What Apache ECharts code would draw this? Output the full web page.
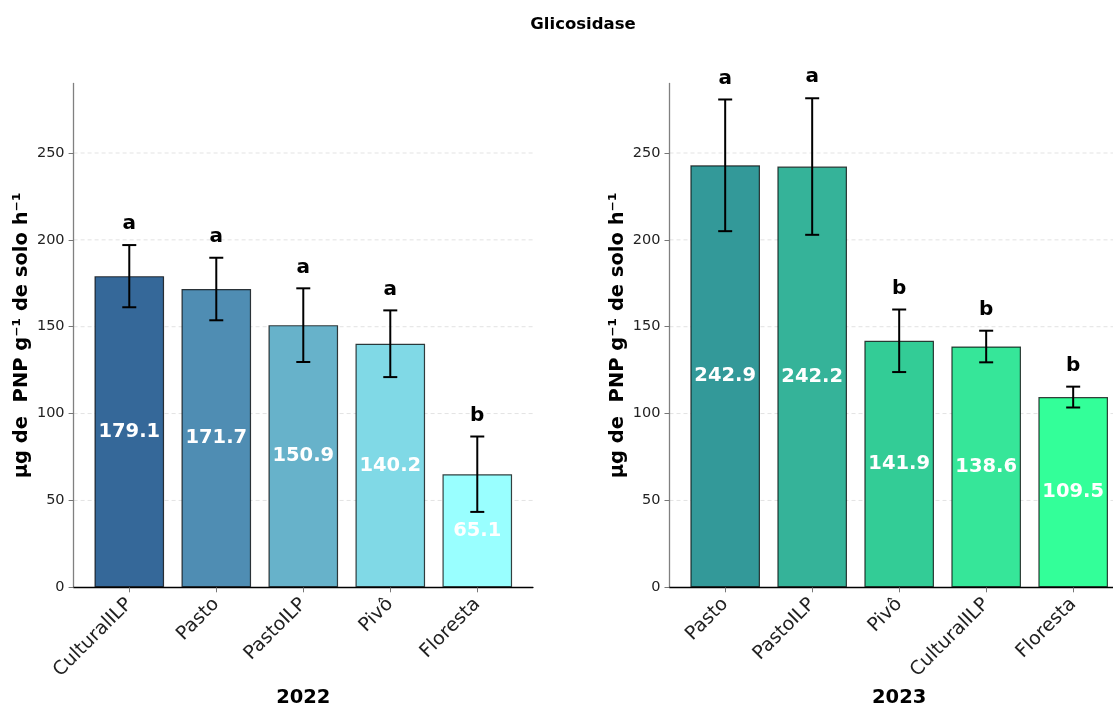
<!DOCTYPE html>
<html>
<head>
<meta charset="utf-8">
<script src="https://cdn.jsdelivr.net/npm/echarts@6/dist/echarts.min.js"></script>
<style>
  html, body { margin: 0; padding: 0; background: #fff; }
  #chart { width: 1113px; height: 706px; }
</style>
</head>
<body>
<div id="chart"></div>
<script>
// Glicosidase activity by land use, 2022 and 2023
const cats2022 = ['CulturalILP', 'Pasto', 'PastoILP', 'Pivô', 'Floresta'];
const mean2022 = [179.1, 171.7, 150.9, 140.2, 65.1];
const err2022 = [17.9, 18.0, 21.2, 19.2, 21.7];
const letters2022 = ['a', 'a', 'a', 'a', 'b'];
const colors2022 = ['#356899', '#4f8db3', '#67b2ca', '#80d9e6', '#99ffff'];

const cats2023 = ['Pasto', 'PastoILP', 'Pivô', 'CulturalILP', 'Floresta'];
const mean2023 = [242.9, 242.2, 141.9, 138.6, 109.5];
const err2023 = [37.9, 39.3, 18.0, 9.1, 6.0];
const letters2023 = ['a', 'a', 'b', 'b', 'b'];
const colors2023 = ['#339999', '#35b399', '#33cc96', '#36e699', '#33ff99'];

const yTicks = [0, 50, 100, 150, 200, 250];
const yMax = 290;
const yLabel = 'µg de  PNP g⁻¹ de solo h⁻¹';
const titleText = 'Glicosidase';

const FONT = 'DejaVu Sans';
const X_MIN = -0.64, X_MAX = 4.64;
const UNIT = 87;                      // pixels per category step
const GRID_W = (X_MAX - X_MIN) * UNIT;
const GRID_TOP = 83.5, GRID_H = 503.8;

const chart = echarts.init(document.getElementById('chart'), null, { renderer: 'canvas' });

function panel(idx, left, cats, year) {
  return {
    grid: { left: left, top: GRID_TOP, width: GRID_W, height: GRID_H, containLabel: false, outerBoundsMode: 'none' },
    xAxis: {
      gridIndex: idx, type: 'value', min: X_MIN, max: X_MAX,
      name: year, nameLocation: 'middle', nameGap: 101,
      nameTextStyle: { fontFamily: FONT, fontWeight: 'bold', fontSize: 19.5, color: '#000' },
      axisLine: { show: true, onZero: false, lineStyle: { color: '#000', width: 1.3 } },
      axisTick: { show: true, customValues: [0, 1, 2, 3, 4], length: 5, lineStyle: { color: '#777', width: 1 } },
      axisLabel: {
        show: true, customValues: [0, 1, 2, 3, 4], rotate: 45, margin: 14,
        fontFamily: FONT, fontSize: 19, color: '#222',
        formatter: v => cats[Math.round(v)]
      },
      splitLine: { show: false }
    },
    yAxis: {
      gridIndex: idx, type: 'value', min: 0, max: yMax,
      name: yLabel, nameLocation: 'middle', nameGap: 41.5, nameRotate: 90,
      nameTextStyle: { fontFamily: FONT, fontWeight: 'bold', fontSize: 19.5, color: '#000' },
      axisLine: { show: true, onZero: false, lineStyle: { color: '#808080', width: 1.3 } },
      axisTick: { show: true, customValues: yTicks, length: 5, lineStyle: { color: '#777', width: 1 } },
      axisLabel: { show: true, customValues: yTicks, margin: 9, fontFamily: FONT, fontSize: 14.5, color: '#222' },
      splitLine: { show: false }
    }
  };
}

const p1 = panel(0, 73.6, cats2022, '2022');
const p2 = panel(1, 669.5, cats2023, '2023');

function gridLineSeries(idx) {
  return {
    type: 'custom', xAxisIndex: idx, yAxisIndex: idx, z: 0, silent: true,
    data: yTicks.filter(v => v > 0).map(v => [v]),
    renderItem: (params, api) => {
      const v = api.value(0);
      const a = api.coord([X_MIN, v]);
      const b = api.coord([X_MAX, v]);
      return {
        type: 'line',
        shape: { x1: a[0], y1: a[1], x2: b[0], y2: b[1] },
        style: { stroke: '#e3e3e3', lineWidth: 1, lineDash: [4, 3] }
      };
    }
  };
}

function barSeries(idx, means, colors) {
  return {
    type: 'bar', xAxisIndex: idx, yAxisIndex: idx, z: 2,
    barWidth: 0.8 * UNIT,
    data: means.map((m, i) => ({
      value: [i, m],
      itemStyle: { color: colors[i], borderColor: 'rgba(0,0,0,0.75)', borderWidth: 1.2 }
    })),
    label: {
      show: true, position: 'inside',
      fontFamily: FONT, fontWeight: 'bold', fontSize: 19.5, color: '#fff',
      formatter: p => p.value[1].toFixed(1)
    }
  };
}

function errorSeries(idx, means, errs) {
  return {
    type: 'custom', xAxisIndex: idx, yAxisIndex: idx, z: 5, silent: true,
    data: means.map((m, i) => [i, m, errs[i]]),
    renderItem: (params, api) => {
      const x = api.value(0), m = api.value(1), e = api.value(2);
      const t = api.coord([x, m + e]);
      const b = api.coord([x, m - e]);
      const cap = 7;
      const st = { stroke: '#000', lineWidth: 2 };
      return {
        type: 'group',
        children: [
          { type: 'line', shape: { x1: t[0], y1: t[1], x2: b[0], y2: b[1] }, style: st },
          { type: 'line', shape: { x1: t[0] - cap, y1: t[1], x2: t[0] + cap, y2: t[1] }, style: st },
          { type: 'line', shape: { x1: b[0] - cap, y1: b[1], x2: b[0] + cap, y2: b[1] }, style: st }
        ]
      };
    }
  };
}

function letterSeries(idx, means, errs, letters) {
  return {
    type: 'custom', xAxisIndex: idx, yAxisIndex: idx, z: 6, silent: true,
    data: means.map((m, i) => [i, m, errs[i]]),
    renderItem: (params, api) => {
      const i = params.dataIndex;
      const p = api.coord([api.value(0), api.value(1) + api.value(2)]);
      return {
        type: 'text',
        style: {
          text: letters[i], x: p[0], y: p[1] - 11,
          align: 'center', verticalAlign: 'bottom',
          font: 'bold 20px "DejaVu Sans"', fill: '#000'
        }
      };
    }
  };
}

chart.setOption({
  animation: false,
  backgroundColor: '#fff',
  textStyle: { fontFamily: FONT },
  graphic: [{
    type: 'text', x: 583, y: 25,
    style: { text: titleText, font: 'bold 16.5px "DejaVu Sans"', fill: '#000', align: 'center', verticalAlign: 'middle' }
  }],
  grid: [p1.grid, p2.grid],
  xAxis: [p1.xAxis, p2.xAxis],
  yAxis: [p1.yAxis, p2.yAxis],
  series: [
    gridLineSeries(0), gridLineSeries(1),
    barSeries(0, mean2022, colors2022), barSeries(1, mean2023, colors2023),
    errorSeries(0, mean2022, err2022), errorSeries(1, mean2023, err2023),
    letterSeries(0, mean2022, err2022, letters2022), letterSeries(1, mean2023, err2023, letters2023)
  ]
});
</script>
</body>
</html>
